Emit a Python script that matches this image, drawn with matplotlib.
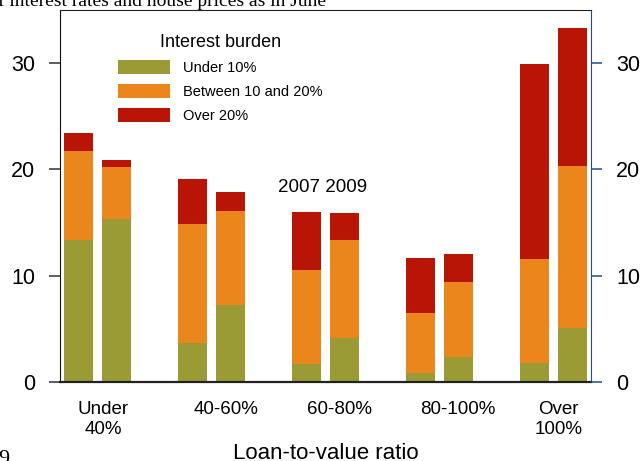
from matplotlib import pyplot as plt
from matplotlib.patches import Patch
import numpy as np

plt.rcParams["font.family"] = ["Liberation Sans", "DejaVu Sans"]

CATEGORIES = ["Under\n40%", "40-60%", "60-80%", "80-100%", "Over\n100%"]
SERIES = ["Under 10%", "Between 10 and 20%", "Over 20%"]
COLORS = ["#9b9b36", "#ea861c", "#b81506"]

# percent of borrowers, segment values per loan-to-value band
Y2007 = {
    "Under 10%": [13.4, 3.65, 1.7, 0.8, 1.75],
    "Between 10 and 20%": [8.3, 11.25, 8.85, 5.7, 9.85],
    "Over 20%": [1.7, 4.2, 5.45, 5.2, 18.3],
}
Y2009 = {
    "Under 10%": [15.35, 7.2, 4.1, 2.3, 5.05],
    "Between 10 and 20%": [4.85, 8.9, 9.3, 7.1, 15.3],
    "Over 20%": [0.7, 1.8, 2.5, 2.65, 12.95],
}
YTICKS = [0, 10, 20, 30]

BAR_W = 0.254
OFFSET = 0.1667
LABEL_SHIFT = [0.048, 0.123, 0.123, 0.158, 0.044]
BLUE = "#1c4ba0"

fig = plt.figure(figsize=(6.42, 4.61), dpi=100)
ax = fig.add_axes([60 / 642, 1 - 381.7 / 461, 531 / 642, 371.4 / 461])

x = np.arange(len(CATEGORIES))
for data, dx in [(Y2007, -OFFSET), (Y2009, OFFSET)]:
    bottom = np.zeros(len(CATEGORIES))
    for name, color in zip(SERIES, COLORS):
        vals = np.array(data[name])
        ax.bar(x + dx, vals, BAR_W, bottom=bottom, color=color, linewidth=0)
        bottom += vals

ax.set_xlim(-0.33, 4.33)
ax.set_ylim(0, 35)
ax.set_yticks(YTICKS)
ax.tick_params(axis="y", direction="out", length=8, width=1.1, color="#333333",
               labelsize=15.5, pad=10)
ax.set_xticks(x + np.array(LABEL_SHIFT))
ax.set_xticklabels(CATEGORIES)
ax.tick_params(axis="x", length=0, labelsize=13.5, pad=14)

ax.spines["left"].set_color("#111111")
ax.spines["top"].set_color("#222222")
ax.spines["bottom"].set_color("#222222")
ax.spines["bottom"].set_linewidth(1.6)
ax.spines["right"].set_color(BLUE)

ax2 = ax.twinx()
ax2.set_ylim(0, 35)
ax2.set_yticks(YTICKS)
ax2.tick_params(axis="y", direction="out", length=8, width=1.1, color=BLUE,
                labelsize=15.5, pad=10)
for s in ax2.spines.values():
    s.set_visible(False)

ax.text(2 - 0.03, 17.9, "2007 2009", ha="center", va="baseline", fontsize=13.5)

handles = [Patch(facecolor=c, edgecolor="none", label=n) for n, c in zip(SERIES, COLORS)]
leg = ax.legend(handles=handles, title="Interest burden", loc="upper left",
                bbox_to_anchor=(0.1087, 0.937), frameon=False, fontsize=10.5,
                title_fontsize=13, handlelength=3.6, handleheight=1.1,
                handletextpad=0.9, labelspacing=0.62, borderpad=0, borderaxespad=0)
leg._legend_box.sep = 7

fig.text(325.5 / 642, 2 / 461, "Loan-to-value ratio", ha="center", va="baseline",
         fontsize=16)
# clipped fragments of surrounding page text
fig.text(-2 / 642, (461 - 6) / 461, "f interest rates and house prices as in June",
         family="Liberation Serif", fontsize=14, va="baseline", ha="left")
fig.text(-2 / 642, -3 / 461, "9", family="Liberation Serif", fontsize=16,
         va="baseline", ha="left")

fig.savefig("out.png", dpi=100)
